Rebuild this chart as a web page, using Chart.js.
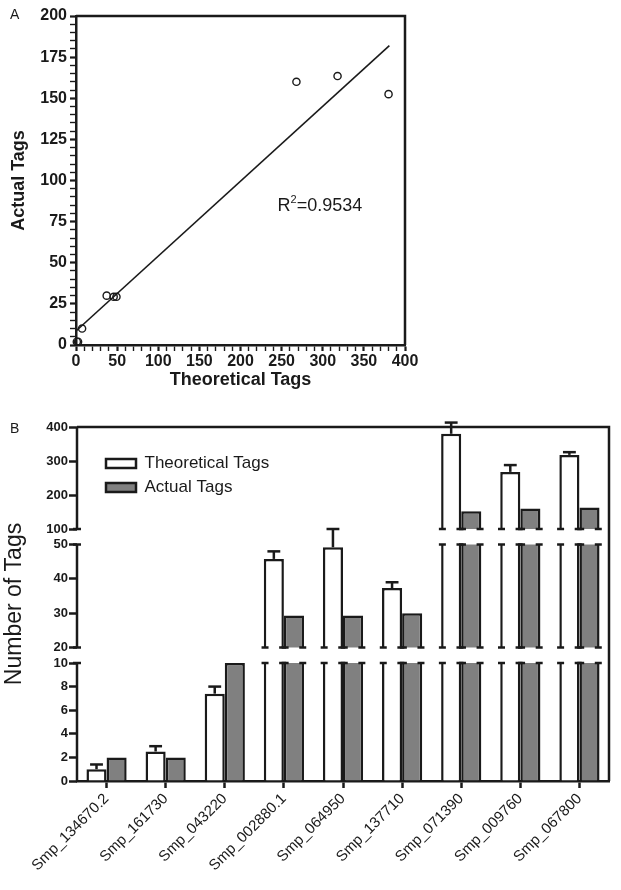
<!DOCTYPE html>
<html>
<head>
<meta charset="utf-8">
<script src="https://cdn.jsdelivr.net/npm/chart.js@4.4.1/dist/chart.umd.min.js"></script>
<style>
  html, body { margin: 0; padding: 0; background: #fff; }
  #wrap { position: relative; width: 621px; height: 890px; overflow: hidden; font-family: 'Liberation Sans', Arial, sans-serif; }
  canvas { position: absolute; left: 0; }
  #chartA { top: 0; }
  #chartB { top: 395px; }
  .panel { position: absolute; left: 10px; font-size: 14px; line-height: 14px; color: #1a1a1a; }
</style>
</head>
<body>
<div id="wrap">
  <canvas id="chartA" width="621" height="395"></canvas>
  <canvas id="chartB" width="621" height="495"></canvas>
  <div class="panel" style="top:7px">A</div>
  <div class="panel" style="top:421px">B</div>
</div>
<script>
// values
const genes = ["Smp_134670.2", "Smp_161730", "Smp_043220", "Smp_002880.1", "Smp_064950",
               "Smp_137710", "Smp_071390", "Smp_009760", "Smp_067800"];
const theoretical = [1.0, 2.5, 7.4, 45.8, 49.2, 37.3, 380, 268, 318];
const theoreticalErr = [0.4, 0.45, 0.6, 2.2, 50.8, 1.7, 33, 20, 8];
const actual = [2, 2, 10, 29.3, 29.3, 30, 152.5, 160, 163.5];
const fitX = [0, 381];
const fitY = [8.5, 182];
const rSquared = "0.9534";
const brokenRanges = [[0, 10], [20, 50], [100, 400]];
const brokenTicks = [0, 2, 4, 6, 8, 10, 20, 30, 40, 50, 100, 200, 300, 400];

// layout of the broken axis (pixel weights of each piece, bottom to top)
const segWeights = [118, 103, 102];
const gapWeight = 15.5;

const ink = '#1a1a1a';
Chart.defaults.font.family = "'Liberation Sans', Arial, sans-serif";
Chart.defaults.color = ink;

// linear scale split into pieces with gaps between them
class BrokenScale extends Chart.LinearScale {
  static id = 'broken';
  static defaults = {};
  buildTicks() {
    return brokenTicks.map(v => ({ value: v }));
  }
  layoutSegs() {
    const total = segWeights.reduce((a, b) => a + b, 0) + gapWeight * (brokenRanges.length - 1);
    const unit = (this.bottom - this.top) / total;
    let base = this.bottom;
    return brokenRanges.map((r, i) => {
      const h = segWeights[i] * unit;
      const s = { lo: r[0], hi: r[1], bottom: base, top: base - h };
      base -= h + gapWeight * unit;
      return s;
    });
  }
  getPixelForValue(value) {
    const ls = this.layoutSegs();
    for (let i = 0; i < ls.length; i++) {
      const s = ls[i];
      if (i > 0 && value < s.lo) {
        const p = ls[i - 1];
        const t = (value - p.hi) / (s.lo - p.hi);
        return p.top + (s.bottom - p.top) * t;
      }
      if (value <= s.hi || i === ls.length - 1) {
        const t = (value - s.lo) / (s.hi - s.lo);
        return s.bottom + (s.top - s.bottom) * t;
      }
    }
    return this.bottom;
  }
  getValueForPixel(pixel) {
    const ls = this.layoutSegs();
    for (let i = 0; i < ls.length; i++) {
      const s = ls[i];
      if (pixel >= s.top || i === ls.length - 1) {
        return s.lo + (s.bottom - pixel) / (s.bottom - s.top) * (s.hi - s.lo);
      }
    }
  }
}
Chart.register(BrokenScale);

function hcap(ctx, x, y, half) {
  ctx.beginPath();
  ctx.moveTo(x - half, y);
  ctx.lineTo(x + half, y);
  ctx.stroke();
}

// ---------- panel A ----------
const frameA = {
  id: 'frameA',
  afterDraw(chart) {
    const { ctx, chartArea: a, scales: { x, y } } = chart;
    ctx.save();
    ctx.strokeStyle = ink;
    ctx.lineWidth = 2.5;
    ctx.beginPath();
    ctx.moveTo(a.left, a.top);
    ctx.lineTo(a.right, a.top);
    ctx.lineTo(a.right, a.bottom);
    ctx.stroke();
    // R² label
    const px = x.getPixelForValue(245), py = y.getPixelForValue(86);
    ctx.fillStyle = ink;
    ctx.textBaseline = 'alphabetic';
    ctx.font = "18px 'Liberation Sans', Arial, sans-serif";
    ctx.fillText('R', px, py + 7);
    const rw = ctx.measureText('R').width;
    ctx.font = "11px 'Liberation Sans', Arial, sans-serif";
    ctx.fillText('2', px + rw, py - 1);
    const sw = ctx.measureText('2').width;
    ctx.font = "18px 'Liberation Sans', Arial, sans-serif";
    ctx.fillText('=' + rSquared, px + rw + sw, py + 7);
    ctx.restore();
  }
};

new Chart(document.getElementById('chartA'), {
  type: 'scatter',
  data: {
    datasets: [
      {
        label: 'fit',
        data: fitX.map((v, i) => ({ x: v, y: fitY[i] })),
        showLine: true,
        borderColor: ink,
        borderWidth: 1.6,
        pointRadius: 0
      },
      {
        label: 'genes',
        data: theoretical.map((v, i) => ({ x: v, y: actual[i] })),
        pointRadius: 3.6,
        pointBorderWidth: 1.4,
        borderColor: ink,
        backgroundColor: 'rgba(255,255,255,0)',
        clip: false
      }
    ]
  },
  options: {
    responsive: false,
    animation: false,
    layout: { padding: { top: 16, right: 216, left: 0, bottom: 0 } },
    plugins: { legend: { display: false }, tooltip: { enabled: false } },
    scales: {
      x: {
        type: 'linear', min: 0, max: 400,
        ticks: {
          stepSize: 10, autoSkip: false, maxRotation: 0, padding: 1,
          callback: v => (v % 50 === 0 ? v : ''),
          font: { size: 16, weight: 'bold' }
        },
        grid: {
          drawOnChartArea: false, tickLength: 6, tickColor: ink,
          tickWidth: c => (c.tick && c.tick.value % 50 === 0 ? 2.2 : 1.4)
        },
        border: { width: 2.5, color: ink },
        title: { display: true, text: 'Theoretical Tags', font: { size: 18, weight: 'bold' }, padding: { top: 0, bottom: 4 } },
        afterFit: s => { s.height = 50; }
      },
      y: {
        type: 'linear', min: 0, max: 200,
        ticks: {
          stepSize: 5, autoSkip: false, padding: 3,
          callback: v => (v % 25 === 0 ? v : ''),
          font: { size: 16, weight: 'bold' }
        },
        grid: {
          drawOnChartArea: false, tickLength: 6, tickColor: ink,
          tickWidth: c => (c.tick && c.tick.value % 25 === 0 ? 2.2 : 1.4)
        },
        border: { width: 2.5, color: ink },
        title: { display: true, text: 'Actual Tags', font: { size: 18, weight: 'bold' }, padding: { top: 8, bottom: 0 } },
        afterFit: s => { s.width = 76; }
      }
    }
  },
  plugins: [frameA]
});

// ---------- panel B ----------
const brokenAxis = {
  id: 'brokenAxis',
  afterLayout(chart) {
    // legend sits inside the plot, upper left
    const a = chart.chartArea, lg = chart.legend;
    lg.left = a.left + 22;
    lg.top = a.top + 21;
    lg.right = a.right;
    lg.bottom = a.bottom;
  },
  afterDatasetsDraw(chart) {
    const { ctx, chartArea: a, scales: { y } } = chart;
    const segs = y.layoutSegs();
    ctx.save();
    // blank the gaps
    ctx.fillStyle = '#fff';
    for (let i = 1; i < segs.length; i++) {
      ctx.fillRect(a.left + 2, segs[i].bottom, a.right - a.left - 2, segs[i - 1].top - segs[i].bottom);
    }
    // little caps where bars are cut
    ctx.strokeStyle = ink;
    ctx.lineWidth = 2.5;
    chart.data.datasets.forEach((ds, di) => {
      chart.getDatasetMeta(di).data.forEach(bar => {
        const half = bar.width / 2;
        const bw = ds.borderWidth;
        const xs = [bar.x - half + bw / 2, bar.x + half - bw / 2];
        for (let i = 1; i < segs.length; i++) {
          [segs[i - 1].top, segs[i].bottom].forEach(py => {
            if (bar.y < py - 0.5) xs.forEach(px => hcap(ctx, px, py, 3.5));
          });
        }
      });
    });
    // error bars (upper only)
    chart.getDatasetMeta(0).data.forEach((bar, j) => {
      const top = y.getPixelForValue(theoretical[j] + theoreticalErr[j]);
      const cw = bar.width * 0.32;
      ctx.beginPath();
      ctx.moveTo(bar.x, bar.y);
      ctx.lineTo(bar.x, top);
      ctx.stroke();
      hcap(ctx, bar.x, top, cw);
    });
    ctx.restore();
  },
  afterDraw(chart) {
    const { ctx, chartArea: a, scales: { y } } = chart;
    const segs = y.layoutSegs();
    ctx.save();
    ctx.strokeStyle = ink;
    ctx.lineWidth = 2.5;
    ctx.beginPath();
    ctx.moveTo(a.left, a.top);
    ctx.lineTo(a.right, a.top);
    ctx.lineTo(a.right, a.bottom);
    ctx.stroke();
    segs.forEach((s, i) => {
      ctx.beginPath();
      ctx.moveTo(a.left, s.bottom);
      ctx.lineTo(a.left, s.top);
      ctx.stroke();
      if (i > 0) hcap(ctx, a.left, s.bottom, 4);
      if (i < segs.length - 1) hcap(ctx, a.left, s.top, 4);
    });
    ctx.restore();
  }
};

new Chart(document.getElementById('chartB'), {
  type: 'bar',
  data: {
    labels: genes,
    datasets: [
      {
        label: 'Theoretical Tags',
        data: theoretical,
        backgroundColor: '#ffffff',
        borderColor: ink,
        borderWidth: 2.5,
        barPercentage: 1,
        categoryPercentage: 0.68
      },
      {
        label: 'Actual Tags',
        data: actual,
        backgroundColor: '#808080',
        borderColor: ink,
        borderWidth: 2.5,
        barPercentage: 1,
        categoryPercentage: 0.68
      }
    ]
  },
  options: {
    responsive: false,
    animation: false,
    layout: { padding: { top: 32, right: 12, left: 0, bottom: 0 } },
    plugins: {
      legend: {
        position: 'chartArea',
        align: 'start',
        labels: { boxWidth: 30, boxHeight: 9, padding: 7, font: { size: 17 }, color: ink }
      },
      tooltip: { enabled: false }
    },
    scales: {
      x: {
        grid: { offset: false, drawOnChartArea: false, tickLength: 7, tickWidth: 2.5, tickColor: ink },
        border: { display: true, width: 2.5, color: ink },
        ticks: { minRotation: 45, maxRotation: 45, autoSkip: false, padding: 2, font: { size: 15 } },
        afterFit: s => { s.height = 109; }
      },
      y: {
        type: 'broken', min: 0, max: 400,
        grid: { drawOnChartArea: false, tickLength: 8, tickWidth: 2.5, tickColor: ink },
        border: { display: false },
        ticks: { autoSkip: false, padding: 1, font: { size: 13, weight: 'bold' }, callback: v => v },
        title: { display: true, text: 'Number of Tags', font: { size: 23 }, padding: { top: 1, bottom: 0 } },
        afterFit: s => { s.width = 77; }
      }
    }
  },
  plugins: [brokenAxis]
});
</script>
</body>
</html>
